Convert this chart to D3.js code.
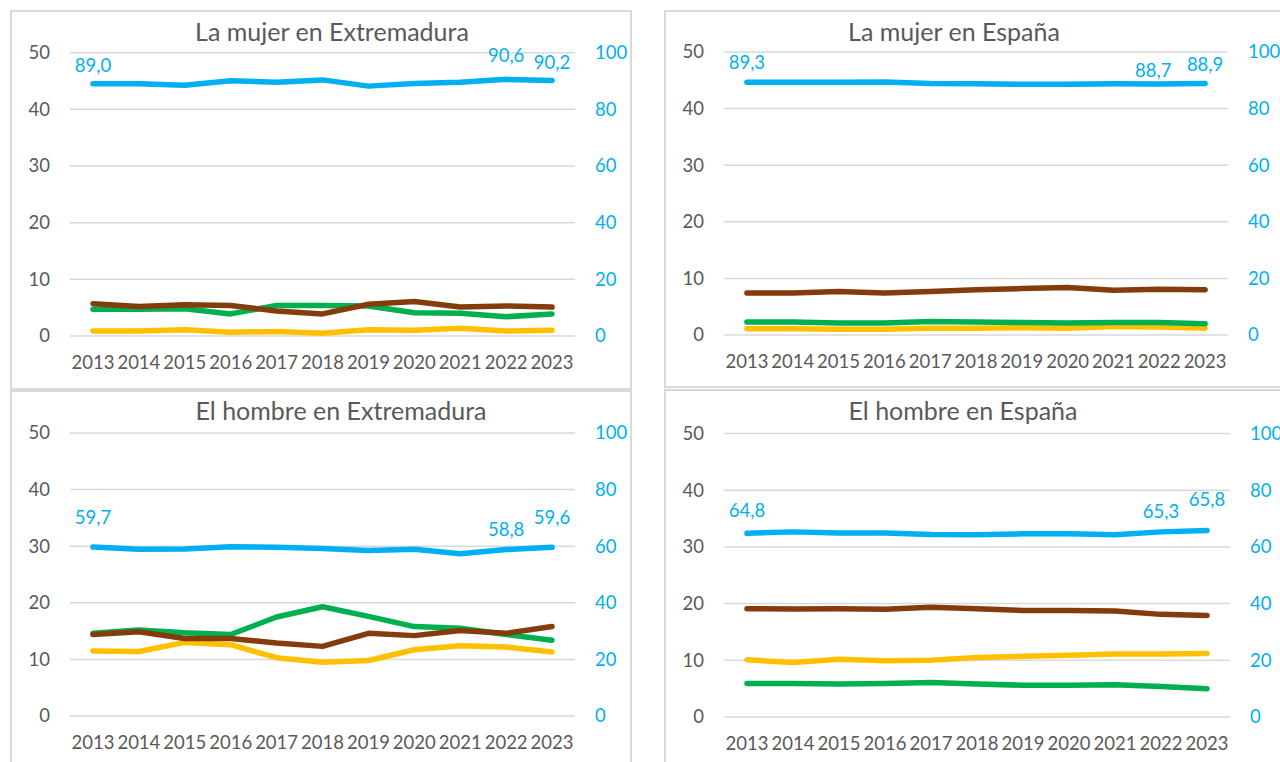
<!DOCTYPE html>
<html>
<head>
<meta charset="utf-8">
<script src="https://cdn.jsdelivr.net/npm/d3@7"></script>
<style>
  body { margin: 0; background: #fff; }
  svg { display: block; font-family: Lato, "Open Sans", sans-serif; }
</style>
</head>
<body>
<svg id="chart"></svg>
<script>
const width = 1280
const height = 762

const years = [2013, 2014, 2015, 2016, 2017, 2018, 2019, 2020, 2021, 2022, 2023]
const leftTicks = [0, 10, 20, 30, 40, 50]
const rightTicks = [0, 20, 40, 60, 80, 100]
const titles = ["La mujer en Extremadura", "La mujer en España", "El hombre en Extremadura", "El hombre en España"]

// blue line is on the right axis (0-100), the others on the left axis (0-50)
const mujerExtAzul = [89.0, 89.0, 88.5, 90.1, 89.6, 90.4, 88.2, 89.1, 89.6, 90.6, 90.2]
const mujerExtMarron = [5.7, 5.2, 5.5, 5.4, 4.4, 3.9, 5.6, 6.1, 5.1, 5.3, 5.1]
const mujerExtVerde = [4.7, 4.7, 4.8, 3.9, 5.4, 5.4, 5.3, 4.1, 4.0, 3.4, 3.9]
const mujerExtAmarillo = [0.9, 0.9, 1.1, 0.65, 0.8, 0.5, 1.1, 1.0, 1.35, 0.9, 1.0]

const mujerEspAzul = [89.3, 89.3, 89.3, 89.4, 88.9, 88.8, 88.6, 88.6, 88.8, 88.7, 88.9]
const mujerEspMarron = [7.4, 7.4, 7.7, 7.4, 7.7, 8.0, 8.2, 8.4, 7.9, 8.1, 8.0]
const mujerEspVerde = [2.3, 2.3, 2.1, 2.1, 2.4, 2.3, 2.2, 2.1, 2.2, 2.2, 2.0]
const mujerEspAmarillo = [1.1, 1.1, 1.0, 1.0, 1.2, 1.2, 1.3, 1.2, 1.5, 1.4, 1.2]

const hombreExtAzul = [59.7, 58.9, 59.0, 59.8, 59.6, 59.2, 58.5, 58.9, 57.3, 58.8, 59.6]
const hombreExtMarron = [14.4, 14.9, 13.7, 13.7, 12.9, 12.3, 14.6, 14.2, 15.1, 14.6, 15.8]
const hombreExtVerde = [14.6, 15.2, 14.7, 14.4, 17.5, 19.3, 17.6, 15.8, 15.5, 14.4, 13.4]
const hombreExtAmarillo = [11.5, 11.4, 13.0, 12.6, 10.3, 9.5, 9.8, 11.7, 12.4, 12.2, 11.3]

const hombreEspAzul = [64.8, 65.3, 64.9, 64.9, 64.4, 64.3, 64.6, 64.6, 64.3, 65.3, 65.8]
const hombreEspMarron = [19.1, 19.05, 19.1, 19.0, 19.35, 19.1, 18.8, 18.8, 18.7, 18.1, 17.9]
const hombreEspVerde = [5.9, 5.9, 5.8, 5.9, 6.1, 5.8, 5.6, 5.6, 5.7, 5.4, 5.0]
const hombreEspAmarillo = [10.1, 9.6, 10.2, 9.9, 10.0, 10.5, 10.7, 10.9, 11.1, 11.1, 11.2]

// years that get a value label on the blue line
const labelledYears = [2013, 2022, 2023]

const colors = { azul: "#00B0F0", marron: "#843C0C", verde: "#00B050", amarillo: "#FFC000" }
const textColor = "#595959"
const gridColor = "#D9D9D9"

const panels = [
    { title: titles[0], azul: mujerExtAzul, marron: mujerExtMarron, verde: mujerExtVerde, amarillo: mujerExtAmarillo,
      box: [11, 11, 620, 378], gx: [70, 575], gy: [336, 52.7], titleAt: [332, 32],
      nudge: [[0, -18], [0, -24], [0, -18]] },
    { title: titles[1], azul: mujerEspAzul, marron: mujerEspMarron, verde: mujerEspVerde, amarillo: mujerEspAmarillo,
      box: [665, 11, 625, 376], gx: [724, 1228], gy: [335, 52], titleAt: [954, 32],
      nudge: [[0, -20], [-6, -13], [0, -19]] },
    { title: titles[2], azul: hombreExtAzul, marron: hombreExtMarron, verde: hombreExtVerde, amarillo: hombreExtAmarillo,
      box: [11, 391, 620, 380], gx: [70, 575], gy: [716, 433], titleAt: [341, 411],
      nudge: [[0, -30], [0, -20], [0, -30]] },
    { title: titles[3], azul: hombreEspAzul, marron: hombreEspMarron, verde: hombreEspVerde, amarillo: hombreEspAmarillo,
      box: [665, 390, 625, 380], gx: [724, 1230], gy: [717, 433.5], titleAt: [963, 411],
      nudge: [[0, -23], [0, -20], [0, -31]] }
]

const fmt = v => d3.format(".1f")(v).replace(".", ",")

const svg = d3.select("#chart")
    .attr("width", width)
    .attr("height", height)
    .style("background", "#fff")

panels.forEach(p => {
    const g = svg.append("g")

    g.append("rect")
        .attr("x", p.box[0])
        .attr("y", p.box[1])
        .attr("width", p.box[2])
        .attr("height", p.box[3])
        .attr("fill", "#fff")
        .attr("stroke", gridColor)
        .attr("stroke-width", 2)

    const x = d3.scaleBand()
        .domain(years)
        .range(p.gx)
    const cx = d => x(d) + x.bandwidth() / 2

    const yLeft = d3.scaleLinear()
        .domain([0, 50])
        .range(p.gy)
    const yRight = d3.scaleLinear()
        .domain([0, 100])
        .range(p.gy)

    // gridlines
    g.append("g")
        .selectAll("line")
        .data(leftTicks)
        .enter()
        .append("line")
            .attr("x1", p.gx[0])
            .attr("x2", p.gx[1])
            .attr("y1", d => yLeft(d))
            .attr("y2", d => yLeft(d))
            .attr("stroke", gridColor)
            .attr("stroke-width", 1.5)

    g.append("text")
        .attr("x", p.titleAt[0])
        .attr("y", p.titleAt[1])
        .attr("dy", "0.35em")
        .attr("text-anchor", "middle")
        .attr("fill", textColor)
        .style("font-size", "25px")
        .text(p.title)

    const styleAxis = (sel, color) => {
        sel.select(".domain").remove()
        sel.selectAll("text")
            .attr("fill", color)
            .style("font-size", "18.5px")
            .style("font-family", "Lato, sans-serif")
    }

    g.append("g")
        .attr("transform", `translate(${p.gx[0]}, 0)`)
        .call(d3.axisLeft(yLeft).tickValues(leftTicks).tickSize(0).tickPadding(20))
        .call(sel => styleAxis(sel, textColor))

    g.append("g")
        .attr("transform", `translate(${p.gx[1]}, 0)`)
        .call(d3.axisRight(yRight).tickValues(rightTicks).tickSize(0).tickPadding(20))
        .call(sel => styleAxis(sel, colors.azul))

    g.append("g")
        .attr("transform", `translate(0, ${p.gy[0]})`)
        .call(d3.axisBottom(x).tickSize(0))
        .call(sel => styleAxis(sel, textColor))
        .call(sel => sel.selectAll("text").attr("y", 27).attr("dy", "0.35em"))

    const series = [
        { values: p.amarillo, color: colors.amarillo, y: yLeft },
        { values: p.verde, color: colors.verde, y: yLeft },
        { values: p.marron, color: colors.marron, y: yLeft },
        { values: p.azul, color: colors.azul, y: yRight }
    ]

    series.forEach(s => {
        const line = d3.line()
            .x((d, i) => cx(years[i]))
            .y(d => s.y(d))
        g.append("path")
            .datum(s.values)
            .attr("d", line)
            .attr("fill", "none")
            .attr("stroke", s.color)
            .attr("stroke-width", 5.5)
            .attr("stroke-linejoin", "round")
            .attr("stroke-linecap", "round")
    })

    g.selectAll(".value-label")
        .data(labelledYears)
        .enter()
        .append("text")
            .attr("class", "value-label")
            .attr("x", (d, i) => cx(d) + p.nudge[i][0])
            .attr("y", (d, i) => yRight(p.azul[years.indexOf(d)]) + p.nudge[i][1])
            .attr("dy", "0.35em")
            .attr("text-anchor", "middle")
            .attr("fill", colors.azul)
            .style("font-size", "18.5px")
            .text(d => fmt(p.azul[years.indexOf(d)]))
})
</script>
</body>
</html>
